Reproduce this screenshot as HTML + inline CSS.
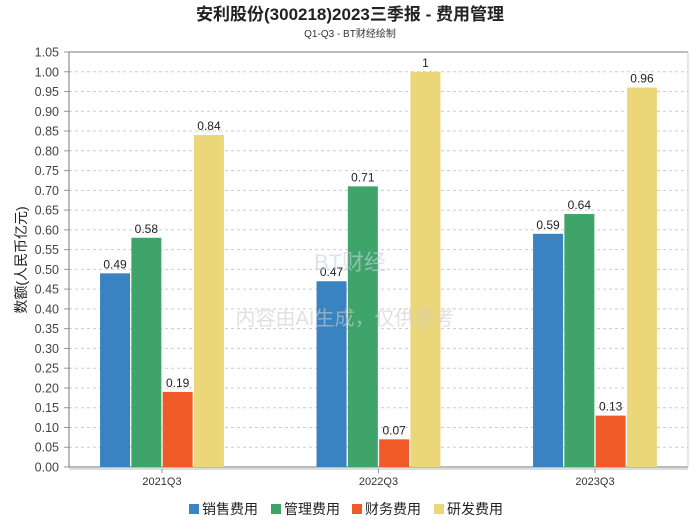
<!DOCTYPE html>
<html><head><meta charset="utf-8">
<style>
body{margin:0;background:#fff;font-family:"Liberation Sans","Noto Sans CJK SC",sans-serif;}
svg text{font-family:"Liberation Sans","Noto Sans CJK SC",sans-serif;}
</style></head>
<body>
<svg width="700" height="524" id="chartsvg">
<rect x="0" y="0" width="700" height="524" fill="#fff"/>
<text x="350" y="20" text-anchor="middle" font-size="17" font-weight="bold" fill="#222">安利股份(300218)2023三季报 - 费用管理</text>
<text x="350" y="37" text-anchor="middle" font-size="10" fill="#333">Q1-Q3 - BT财经绘制</text>
<text transform="translate(26,260) rotate(-90)" text-anchor="middle" font-size="14" fill="#222">数额(人民币亿元)</text>
<g id="gridG"></g>
<g id="barsG"></g>
<text x="345" y="325" text-anchor="middle" font-size="20" fill="#ccc" opacity="0.6">内容由AI生成，仅供参考</text>
<text x="350" y="270" text-anchor="middle" font-size="22" fill="#c8d2e0" opacity="0.6">BT财经</text>
<g id="legendG"></g>
</svg>
<script>
const categories=["2021Q3","2022Q3","2023Q3"];
const seriesNames=["销售费用","管理费用","财务费用","研发费用"];
const sales=[0.49,0.47,0.59];
const admin=[0.58,0.71,0.64];
const finance=[0.19,0.07,0.13];
const rnd=[0.84,1.0,0.96];
const labels=[["0.49","0.47","0.59"],["0.58","0.71","0.64"],["0.19","0.07","0.13"],["0.84","1","0.96"]];
const colors=["#3a83c1","#3fa46a","#f05a28","#ecd67a"];
const NS="http://www.w3.org/2000/svg";
const pL=69,pR=688,pT=52,pB=467,maxV=1.05;
const yS=v=>pB-(v/maxV)*(pB-pT);
const xc=i=>162+i*216.5;
function mk(t,a,p){const e=document.createElementNS(NS,t);for(const k in a)e.setAttribute(k,a[k]);p.appendChild(e);return e;}
const gG=document.getElementById('gridG');
for(let k=0;k<=21;k++){
  const v=k*0.05,yy=yS(v);
  const ln=mk('line',{x1:pL,x2:pR,y1:yy,y2:yy,stroke:(k==0||k==21)?'#777':'#ccc','stroke-dasharray':(k==0||k==21)?'none':'3,3'},gG);
  
  
  const tk=mk('line',{x1:pL-5,x2:pL,y1:yy,y2:yy,stroke:'#999'},gG);
  
  
  const t=mk('text',{x:pL-10,y:yy+4.5,'text-anchor':'end','font-size':'12.5',fill:'#444'},gG);
  t.textContent=v.toFixed(2);
  
  
}
const ax=mk('line',{x1:pL,x2:pL,y1:pT,y2:pB,stroke:'#777'},gG);


const rx=mk('line',{x1:pR,x2:pR,y1:pT,y2:pB,stroke:'#ccc'},gG);


const xa=mk('line',{x1:pL,x2:pR,y1:pB+2,y2:pB+2,stroke:'#bbb'},gG);


const bG=document.getElementById('barsG');
const series=[sales,admin,finance,rnd];
const bw=30,gap=1.3;
categories.forEach((c,i)=>{
  series.forEach((s,j)=>{
    const x=xc(i)-2*bw-1.5*gap+j*(bw+gap);
    const r=mk('rect',{x:x,y:yS(s[i]),width:bw,height:pB-yS(s[i]),fill:colors[j]},bG);
    
    
    const t=mk('text',{x:x+bw/2,y:yS(s[i])-5,'text-anchor':'middle','font-size':'12',fill:'#222'},bG);
    t.textContent=labels[j][i];
    
    
  });
  const tk=mk('line',{x1:xc(i),x2:xc(i),y1:pB+2,y2:pB+6,stroke:'#999'},bG);
  
  
  const t=mk('text',{x:xc(i),y:pB+18,'text-anchor':'middle','font-size':'11',fill:'#333'},bG);
  t.textContent=c;
  
  
});
const lG=document.getElementById('legendG');
const lx=[189,271,352,434];
seriesNames.forEach((n,j)=>{
  const r=mk('rect',{x:lx[j],y:504,width:10,height:10,fill:colors[j]},lG);
  
  
  const t=mk('text',{x:lx[j]+13,y:514,'font-size':'14',fill:'#222'},lG);
  t.textContent=n;
  
  
});
</script>
</body></html>
